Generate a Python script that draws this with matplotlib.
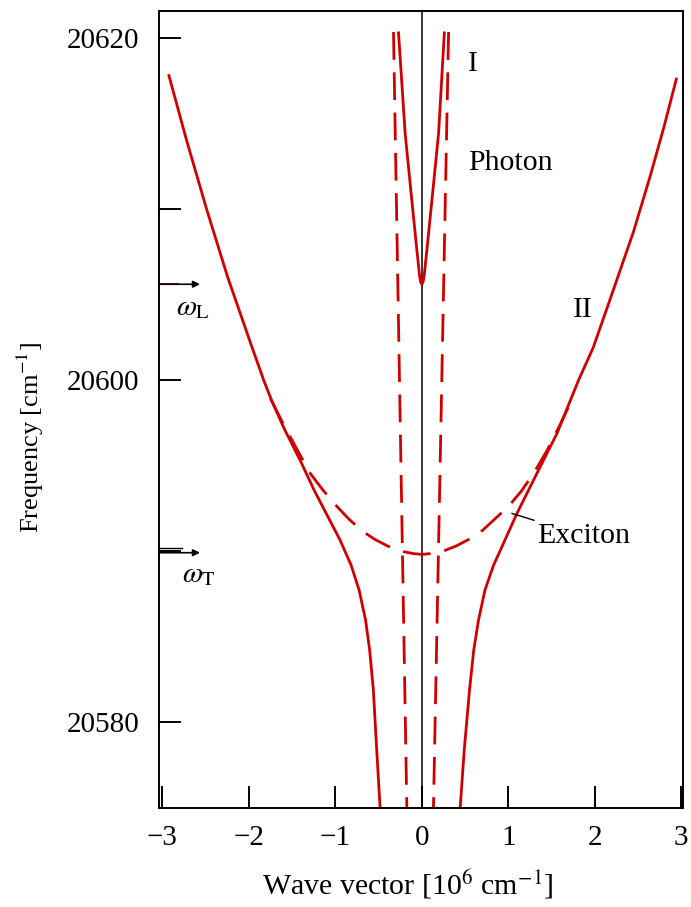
import numpy as np
import matplotlib
matplotlib.use("Agg")
import matplotlib.pyplot as plt

plt.rcParams['font.family'] = ['Liberation Serif', 'DejaVu Serif']
plt.rcParams['mathtext.fontset'] = 'stix'

RED = '#d10000'

# branch II (lower polariton)
k2_left = [-2.925, -2.72, -2.49, -2.245, -1.97, -1.83, -1.74, -1.585, -1.409,
           -1.247, -1.085, -0.946, -0.819, -0.726, -0.651, -0.604, -0.561,
           -0.522, -0.483]
w2_left = [20617.8, 20614.0, 20610.0, 20606.0, 20602.0, 20600.0, 20598.83,
           20597.08, 20595.32, 20593.57, 20591.99, 20590.64, 20589.18,
           20587.72, 20585.96, 20584.21, 20581.87, 20578.36, 20574.97]
k2_right = [0.443, 0.49, 0.551, 0.60, 0.655, 0.73, 0.83, 0.926, 1.100, 1.292,
            1.563, 1.813, 1.982, 2.179, 2.446, 2.642, 2.80, 2.943]
w2_right = [20574.97, 20578.36, 20581.87, 20584.21, 20585.96, 20587.72,
            20589.18, 20590.25, 20592.20, 20594.15, 20596.88, 20600.0,
            20601.9, 20604.75, 20608.65, 20611.95, 20614.8, 20617.6]

# branch I (upper polariton)
k1 = [-0.27, -0.193, -0.116, -0.058, -0.037, -0.027, -0.015, 0.0,
      0.015, 0.027, 0.037, 0.058, 0.116, 0.193, 0.26]
w1 = [20620.3, 20614.4, 20610.5, 20607.6, 20606.6, 20606.1, 20605.75, 20605.6,
      20605.75, 20606.1, 20606.6, 20607.6, 20610.5, 20614.4, 20620.3]

# uncoupled exciton (dashed)
k_exc = [-1.75, -1.6, -1.45, -1.3, -1.15, -1.0, -0.85, -0.7, -0.55, -0.4,
         -0.25, -0.1, 0.0, 0.1, 0.25, 0.4, 0.55, 0.7, 0.85, 1.0, 1.15, 1.3,
         1.45, 1.6, 1.74]
w_exc = [20598.9, 20597.4, 20596.0, 20594.6, 20593.6, 20592.7, 20591.9,
         20591.2, 20590.7, 20590.3, 20590.0, 20589.85, 20589.8, 20589.85,
         20590.0, 20590.3, 20590.7, 20591.2, 20591.9, 20592.6, 20593.5,
         20594.6, 20595.9, 20597.4, 20598.9]

# uncoupled photon (dashed, nearly vertical)
k_ph_left = [-0.328, -0.174]
k_ph_right = [0.309, 0.134]
w_ph = [20620.35, 20575.0]

w_L = 20605.6
w_T = 20589.9

fig = plt.figure(figsize=(6.91, 9.07), dpi=100)
ax = fig.add_axes([159 / 691, 99 / 907, 524 / 691, 797 / 907])

ax.axvline(0, color='black', lw=1.1, zorder=1)

ax.plot(k2_left, w2_left, color=RED, lw=2.0)
ax.plot(k2_right, w2_right, color=RED, lw=2.0)
ax.plot(k1, w1, color=RED, lw=2.0)
ax.plot(k_exc, w_exc, color=RED, lw=2.0, dashes=(10, 5))
ax.plot(k_ph_left, w_ph, color=RED, lw=2.0, dashes=(10, 4.5))
ax.plot(k_ph_right, w_ph, color=RED, lw=2.0, dashes=(10, 4.5))

ax.set_xlim(-3.04, 3.02)
ax.set_ylim(20574.97, 20621.58)

ax.set_xticks([-3, -2, -1, 0, 1, 2, 3])
ax.set_yticks([20580, 20590, 20600, 20610, 20620])
ax.set_yticklabels(['20580', '', '20600', '', '20620'])
ax.tick_params(direction='in', length=16, width=1.4, labelsize=21, pad=14)
ax.tick_params(axis='x', pad=12)
for sp in ax.spines.values():
    sp.set_linewidth(1.4)

# omega_L and omega_T markers on the left spine
ax.annotate('', xy=(-2.566, w_L), xytext=(-3.04, w_L),
            arrowprops=dict(arrowstyle='-|>', color='black', lw=1.2,
                            mutation_scale=10, shrinkA=0, shrinkB=0))
ax.plot([-3.04, -2.82], [w_L, w_L], color=RED, lw=1.4)
ax.text(-2.84, w_L - 1.4, r'$\omega_{\rm L}$', fontsize=21, va='center', ha='left')

ax.annotate('', xy=(-2.566, w_T), xytext=(-3.04, w_T),
            arrowprops=dict(arrowstyle='-|>', color='black', lw=1.2,
                            mutation_scale=10, shrinkA=0, shrinkB=0))
ax.plot([-3.04, -2.77], [w_T + 0.3, w_T + 0.3], color='black', lw=1.0)
ax.text(-2.77, w_T - 1.3, r'$\omega_{\rm T}$', fontsize=21, va='center', ha='left')

ax.text(0.53, 20618.5, 'I', fontsize=21, va='center', ha='left')
ax.text(0.53, 20612.7, 'Photon', fontsize=21.5, va='center', ha='left')
ax.text(1.75, 20604.1, 'II', fontsize=21.5, va='center', ha='left')
ax.annotate('Exciton', xy=(1.04, 20592.2), xytext=(1.33, 20590.9),
            fontsize=21.5, va='center', ha='left',
            arrowprops=dict(arrowstyle='-', color='black', lw=1.0,
                            shrinkA=0, shrinkB=0))

fig.text(30 / 691, 1 - 437 / 907, 'Frequency [cm$^{-1}$]', rotation=90,
         fontsize=19, ha='center', va='center')
fig.text(408 / 691, 1 - 885 / 907, 'Wave vector [10$^{6}$ cm$^{-1}$]',
         fontsize=21.5, ha='center', va='center')

fig.savefig('out.png', dpi=100)
